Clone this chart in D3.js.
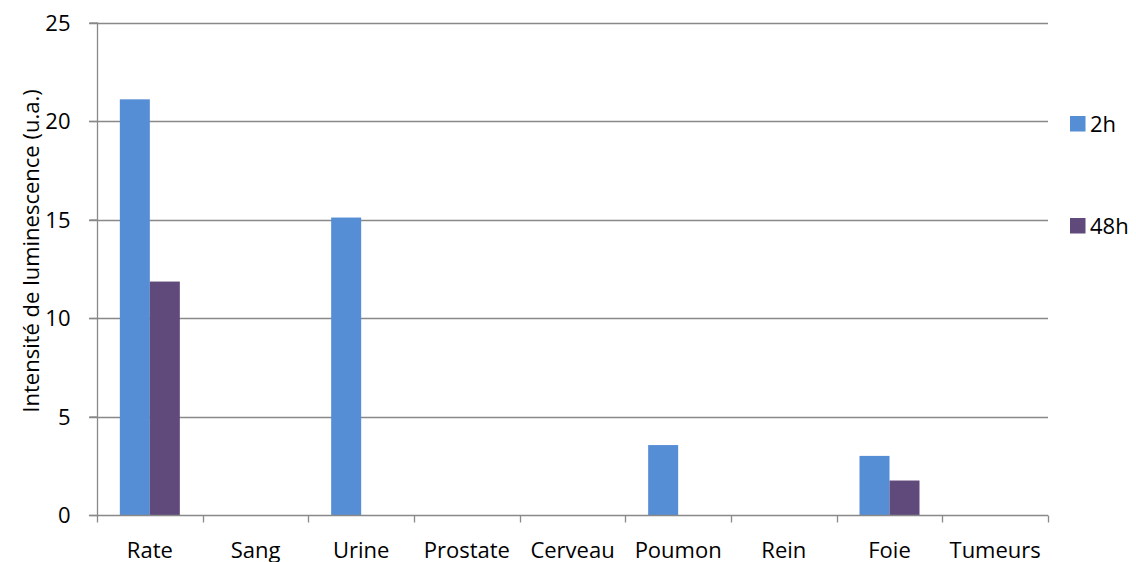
<!DOCTYPE html>
<html>
<head>
<meta charset="utf-8">
<script src="https://cdn.jsdelivr.net/npm/d3@7/dist/d3.min.js"></script>
<style>
  html, body { margin: 0; padding: 0; background: #fff; }
  svg text { font-family: "Open Sans", sans-serif; fill: #000; }
</style>
</head>
<body>
<svg id="chart" width="1136" height="562"></svg>
<script>
// Organes mesurés
const categories = ["Rate", "Sang", "Urine", "Prostate", "Cerveau", "Poumon", "Rein", "Foie", "Tumeurs"];
// Séries temporelles
const seriesNames = ["2h", "48h"];
const values2h  = [21.1, 0, 15.1, 0, 0, 3.55, 0, 3.0, 0];
const values48h = [11.85, 0, 0, 0, 0, 0, 0, 1.75, 0];
const yTicks = [0, 5, 10, 15, 20, 25];
const colors = ["#558ED5", "#604A7B"];

const svg = d3.select("#chart");
const margin = { left: 97, right: 88, top: 22.5, bottom: 47 };
const W = 1136, H = 562;
const x0 = margin.left, x1 = W - margin.right;
const yTop = margin.top, yBot = H - margin.bottom;
const FS = 22;

const x = d3.scaleBand().domain(categories).range([x0, x1]);
const xs = d3.scaleBand().domain(seriesNames).range([0, x.bandwidth()]).paddingInner(0).paddingOuter(0.761);
const y = d3.scaleLinear().domain([0, 25]).range([yBot, yTop]);

const gridColor = "#898989";

// Lignes de quadrillage horizontales
svg.append("g")
  .selectAll("line")
  .data(yTicks.filter(d => d > 0))
  .join("line")
  .attr("x1", x0 - 8).attr("x2", x1)
  .attr("y1", d => Math.round(y(d)) + 0.5).attr("y2", d => Math.round(y(d)) + 0.5)
  .attr("stroke", gridColor).attr("stroke-width", 1.3);

// Barres
const rows = categories.map((c, i) => ({ cat: c, vals: [values2h[i], values48h[i]] }));
svg.append("g")
  .selectAll("g")
  .data(rows)
  .join("g")
  .attr("transform", d => `translate(${x(d.cat)},0)`)
  .selectAll("rect")
  .data(d => d.vals.map((v, j) => ({ v, s: seriesNames[j], j })))
  .join("rect")
  .attr("x", d => xs(d.s))
  .attr("width", xs.bandwidth())
  .attr("y", d => y(d.v))
  .attr("height", d => yBot - y(d.v))
  .attr("fill", d => colors[d.j]);

// Axe Y
const yAxis = d3.axisLeft(y).tickValues(yTicks).tickSize(8).tickPadding(19).tickFormat(d3.format("d"));
const gy = svg.append("g").attr("transform", `translate(${x0 + 0.5},0)`).call(yAxis);
gy.select(".domain").attr("stroke", gridColor).attr("stroke-width", 1.3).attr("d", `M0,${yTop}V${yBot}`);
gy.selectAll(".tick line").attr("stroke", gridColor).attr("stroke-width", 1.3);
gy.selectAll(".tick text").attr("font-size", FS).attr("dy", "0.36em").style("font-family", "'Open Sans', sans-serif");

// Axe X
const xAxis = d3.axisBottom(x).tickSize(0).tickPadding(0);
const gx = svg.append("g").attr("transform", `translate(0,${Math.round(yBot) + 0.5})`).call(xAxis);
gx.select(".domain").attr("stroke", gridColor).attr("stroke-width", 1.3).attr("d", `M${x0 - 8},0H${x1}`);
gx.selectAll(".tick text").attr("font-size", FS).attr("dy", 0).attr("y", 42).style("font-family", "'Open Sans', sans-serif");
// Graduations entre les catégories
const boundaries = categories.map(c => x(c)).concat([x1]);
gx.selectAll(".sep")
  .data(boundaries)
  .join("line")
  .attr("class", "sep")
  .attr("x1", d => Math.round(d) + 0.5).attr("x2", d => Math.round(d) + 0.5)
  .attr("y1", 0).attr("y2", 7)
  .attr("stroke", gridColor).attr("stroke-width", 1.3);

// Titre de l'axe Y
svg.append("text")
  .attr("transform", `translate(39,251) rotate(-90)`)
  .attr("text-anchor", "middle")
  .attr("font-size", FS)
  .text("Intensité de luminescence (u.a.)");

// Légende
const legend = svg.append("g").attr("transform", "translate(1070,0)");
const legendY = [116, 218];
seriesNames.forEach((s, i) => {
  legend.append("rect").attr("x", 0).attr("y", legendY[i]).attr("width", 15.5).attr("height", 15.5).attr("fill", colors[i]);
  legend.append("text").attr("x", 20).attr("y", legendY[i] + 15.5).attr("font-size", FS).text(s);
});
</script>
</body>
</html>
